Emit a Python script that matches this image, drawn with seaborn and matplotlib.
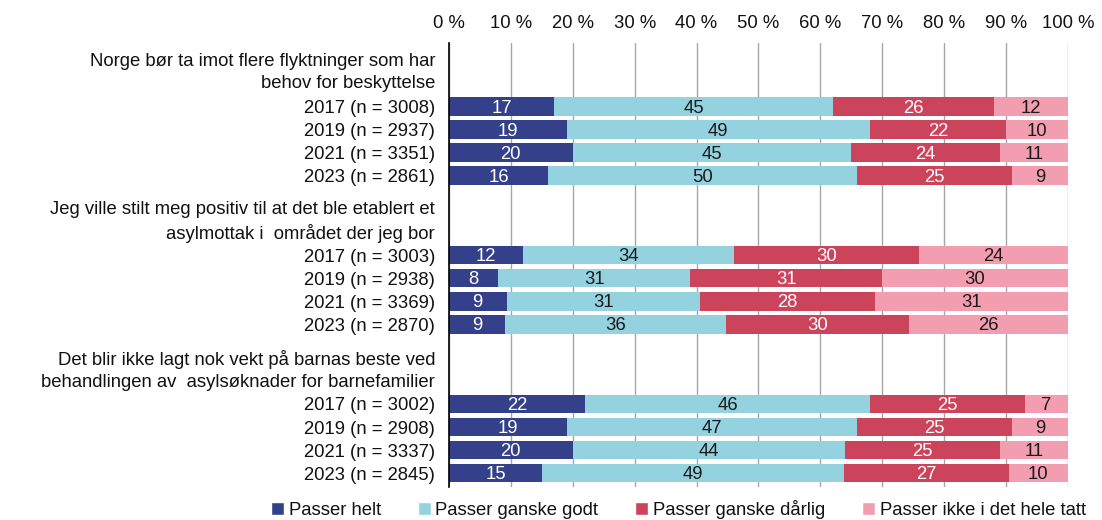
import matplotlib
matplotlib.use("Agg")
import matplotlib.pyplot as plt
from matplotlib.patches import Patch
import pandas as pd
import seaborn as sns

# statements (two-line headers)
statements = [
    "Norge bør ta imot flere flyktninger som har\nbehov for beskyttelse",
    "Jeg ville stilt meg positiv til at det ble etablert et\nasylmottak i  området der jeg bor",
    "Det blir ikke lagt nok vekt på barnas beste ved\nbehandlingen av  asylsøknader for barnefamilier",
]
years = ["2017", "2019", "2021", "2023"]
n_sizes = [
    [3008, 2937, 3351, 2861],
    [3003, 2938, 3369, 2870],
    [3002, 2908, 3337, 2845],
]
categories = ["Passer helt", "Passer ganske godt", "Passer ganske dårlig", "Passer ikke i det hele tatt"]
colors = ["#34418a", "#94d2e0", "#cb445b", "#f29eb0"]
text_colors = ["white", "#1a1a1a", "white", "#1a1a1a"]

# percentages, rows ordered statement by statement, year by year
passer_helt = [17, 19, 20, 16, 12, 8, 9.3, 9.0, 22, 19, 20, 15.1]
ganske_godt = [45, 49, 45, 50, 34, 31, 31.2, 35.8, 46, 47, 44, 48.7]
ganske_darlig = [26, 22, 24, 25, 30, 31, 28.4, 29.6, 25, 25, 25, 26.6]
ikke_i_det_hele = [12, 10, 11, 9, 24, 30, 31.1, 25.6, 7, 9, 11, 9.6]

series = [passer_helt, ganske_godt, ganske_darlig, ikke_i_det_hele]

sns.set_theme(style="white")
plt.rcParams["font.family"] = ["Liberation Sans", "DejaVu Sans"]

group_step = 6.45
first_row = 1.65

rows = []
for g in range(len(statements)):
    for k, year in enumerate(years):
        idx = g * len(years) + k
        pos = g * group_step + first_row + k
        left = 0
        for c, cat in enumerate(categories):
            val = series[c][idx]
            rows.append(dict(pos=pos, category=cat, value=val, left=left, right=left + val,
                             label=f"{year} (n = {n_sizes[g][k]})"))
            left += val
df = pd.DataFrame(rows)

fig = plt.figure(figsize=(11.02, 5.2), dpi=100)
ax = fig.add_axes([0.4074, 0.0635, 0.5617, 0.8538])

# stacked bars: draw cumulative totals from the last category back to the first
for c in reversed(range(len(categories))):
    sub = df[df["category"] == categories[c]]
    sns.barplot(data=sub, x="right", y="pos", orient="h", native_scale=True,
                color=colors[c], width=0.8, errorbar=None, saturation=1,
                linewidth=0, ax=ax)

for _, r in df.iterrows():
    c = categories.index(r["category"])
    ax.text((r["left"] + r["right"]) / 2, r["pos"] + 0.07, f"{r['value']:.0f}",
            ha="center", va="center", fontsize=13.3, color=text_colors[c])

# y labels: statement headers plus year rows
ytick_pos, ytick_lab = [], []
for g, st in enumerate(statements):
    ytick_pos.append(g * group_step)
    ytick_lab.append(st)
row_labels = df.drop_duplicates("pos")
ytick_pos += list(row_labels["pos"])
ytick_lab += list(row_labels["label"])
ax.set_yticks(ytick_pos)
ax.set_yticklabels(ytick_lab, ha="right", linespacing=1.38)
ax.tick_params(axis="y", length=0, pad=10, labelsize=13.3, colors="#111111")

ax.set_xlim(0, 100)
ax.set_ylim(18.15, -1.1)
ax.xaxis.tick_top()
ax.set_xticks(range(0, 101, 10))
ax.set_xticklabels([f"{t} %" for t in range(0, 101, 10)])
ax.tick_params(axis="x", length=0, pad=8, labelsize=13.3, colors="#111111",
               labeltop=True, labelbottom=False)
ax.xaxis.grid(True, color="#a6a6a6", linewidth=1)
ax.yaxis.grid(False)
ax.set_axisbelow(True)
ax.set_xlabel("")
ax.set_ylabel("")

for side in ["top", "right", "bottom"]:
    ax.spines[side].set_visible(False)
ax.spines["left"].set_color("black")
ax.spines["left"].set_linewidth(1.2)

handles = [Patch(facecolor=col, label=cat) for col, cat in zip(colors, categories)]
fig.legend(handles=handles, ncol=4, loc="lower center", bbox_to_anchor=(0.6157, -0.03),
           frameon=False, fontsize=13.3, handlelength=0.7, handleheight=0.7,
           handletextpad=0.25, columnspacing=2.0, labelcolor="#111111")

fig.savefig("out.png", dpi=100)
